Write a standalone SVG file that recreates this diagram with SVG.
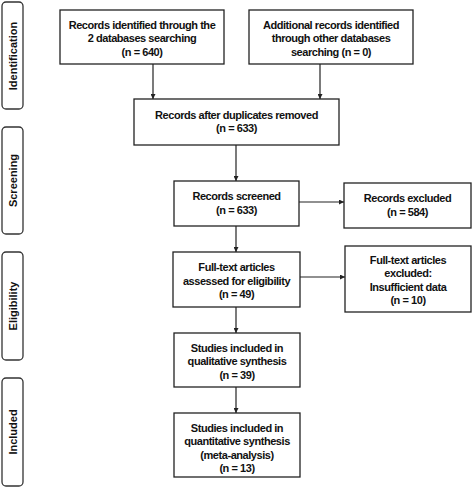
<svg xmlns="http://www.w3.org/2000/svg" width="472" height="487" viewBox="0 0 472 487">
<style>
.box{fill:#fff;stroke:#222;stroke-width:1.3}
.side{fill:#fff;stroke:#333;stroke-width:1.3}
.t{font-family:"Liberation Sans",Arial,sans-serif;font-size:11px;font-weight:bold;fill:#111;text-anchor:middle;letter-spacing:-0.45px}
.s{font-family:"Liberation Sans",Arial,sans-serif;font-size:11px;font-weight:bold;fill:#111;text-anchor:middle}
.c{stroke:#222;stroke-width:1.2;fill:none;marker-end:url(#ah)}
</style>
<defs>
<marker id="ah" viewBox="0 0 10 10" refX="10" refY="5" markerWidth="5" markerHeight="5" markerUnits="userSpaceOnUse" orient="auto">
<path d="M0,0 L10,5 L0,10 z" fill="#222"/>
</marker>
</defs>
<rect width="472" height="487" fill="#fff"/>
<g id="phase-identification"><rect class="side" x="2" y="2" width="21" height="107" rx="4"/><text class="s" transform="translate(17,56) rotate(-90)">Identification</text></g>
<g id="phase-screening"><rect class="side" x="2" y="127" width="21" height="107" rx="4"/><text class="s" transform="translate(17,180.5) rotate(-90)">Screening</text></g>
<g id="phase-eligibility"><rect class="side" x="2" y="252" width="21" height="108" rx="4"/><text class="s" transform="translate(17,306) rotate(-90)">Eligibility</text></g>
<g id="phase-included"><rect class="side" x="2" y="378" width="21" height="108" rx="4"/><text class="s" transform="translate(17,432) rotate(-90)">Included</text></g>

<g id="connectors">
<path class="c" d="M153,64 V99"/>
<path class="c" d="M320,64 V99"/>
<path class="c" d="M236,145 V181"/>
<path class="c" d="M299,202 H344"/>
<path class="c" d="M236,226 V252"/>
<path class="c" d="M300,277 H345"/>
<path class="c" d="M236,307 V333"/>
<path class="c" d="M236,387 V413"/>
</g>

<g id="n1"><rect class="box" x="60" y="10" width="164" height="54"/>
<text class="t" x="142" y="28.5">Records identified through the</text>
<text class="t" x="142" y="42">2 databases searching</text>
<text class="t" x="142" y="55.5">(n = 640)</text></g>
<g id="n2"><rect class="box" x="249" y="10" width="164" height="54"/>
<text class="t" x="331" y="28.5">Additional records identified</text>
<text class="t" x="331" y="42">through other databases</text>
<text class="t" x="331" y="55.5">searching (n = 0)</text></g>
<g id="n3"><rect class="box" x="134" y="99" width="205" height="46"/>
<text class="t" x="236.5" y="118.5">Records after duplicates removed</text>
<text class="t" x="236.5" y="131.5">(n = 633)</text></g>
<g id="n4"><rect class="box" x="174" y="181" width="125" height="45"/>
<text class="t" x="236.5" y="199.5">Records screened</text>
<text class="t" x="236.5" y="213.5">(n = 633)</text></g>
<g id="n5"><rect class="box" x="344" y="183" width="127" height="45"/>
<text class="t" x="407.5" y="201.5">Records excluded</text>
<text class="t" x="407.5" y="215.5">(n = 584)</text></g>
<g id="n6"><rect class="box" x="173" y="252" width="127" height="55"/>
<text class="t" x="236.5" y="271">Full-text articles</text>
<text class="t" x="236.5" y="284.5">assessed for eligibility</text>
<text class="t" x="236.5" y="298">(n = 49)</text></g>
<g id="n7"><rect class="box" x="345" y="246" width="126" height="66"/>
<text class="t" x="408" y="263.5">Full-text articles</text>
<text class="t" x="408" y="277">excluded:</text>
<text class="t" x="408" y="290.5">Insufficient data</text>
<text class="t" x="408" y="304">(n = 10)</text></g>
<g id="n8"><rect class="box" x="174" y="333" width="126" height="54"/>
<text class="t" x="237" y="351.5">Studies included in</text>
<text class="t" x="237" y="365">qualitative synthesis</text>
<text class="t" x="237" y="378.5">(n = 39)</text></g>
<g id="n9"><rect class="box" x="174" y="413" width="126" height="64"/>
<text class="t" x="237" y="431.5">Studies included in</text>
<text class="t" x="237" y="445">quantitative synthesis</text>
<text class="t" x="237" y="458.5">(meta-analysis)</text>
<text class="t" x="237" y="472">(n = 13)</text></g>
</svg>
